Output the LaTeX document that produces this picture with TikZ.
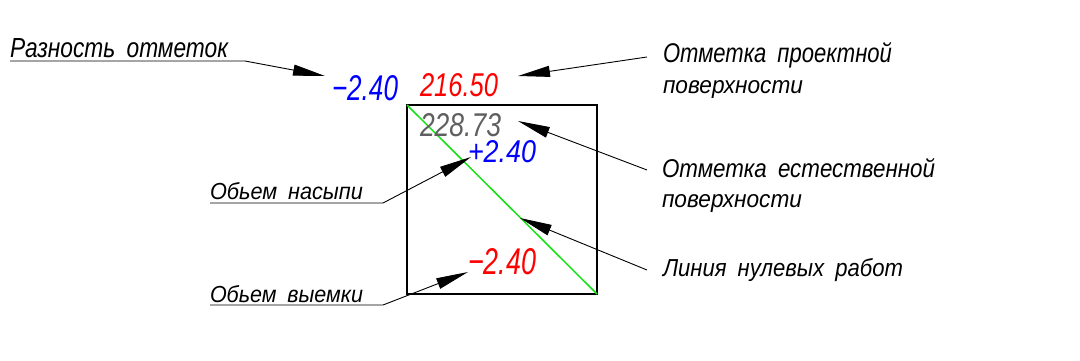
\documentclass[tikz,border=0pt]{standalone}
\usepackage{graphicx}
\usepackage{fontspec}
\setmainfont{Liberation Sans}
\usetikzlibrary{arrows.meta}
\newcommand\fitbox[3]{\resizebox{#1pt}{#2pt}{\itshape #3}}
\newcommand\gap{\hspace{0.5em}}
\definecolor{cblue}{RGB}{0,0,255}
\definecolor{cred}{RGB}{255,0,0}
\definecolor{cgray}{RGB}{95,95,95}
\definecolor{cgreen}{RGB}{20,225,20}
\begin{document}
\begin{tikzpicture}[x=1pt,y=-1pt,
  txt/.style={inner sep=0pt, outer sep=0pt, anchor=base west},
  lead/.style={line width=0.9pt, line join=round, -{Triangle[length=32pt,width=11pt]}},
  frame/.style={line width=1.8pt},
  zero/.style={line width=1.5pt, draw=cgreen}]
\useasboundingbox (0,0) rectangle (1080,361);
% square and zero-work line
\coordinate (sq1) at (407,105);
\coordinate (sq2) at (597,294);
\draw[frame] (sq1) rectangle (sq2);
\draw[zero] (sq1) -- (sq2);
% numbers
\node[txt, text=cblue] (dif) at (332,100) {\fitbox{66}{25}{−2.40}};
\node[txt, text=cred] (proj) at (420,96) {\fitbox{78}{23}{216.50}};
\node[txt, text=cgray] (nat) at (420,136) {\fitbox{81}{23}{228.73}};
\node[txt, text=cblue] (fill) at (468,162) {\fitbox{68}{22}{+2.40}};
\node[txt, text=cred] (cut) at (468,274) {\fitbox{68}{26}{−2.40}};
% labels
\node[txt] (lraz) at (10,57) {\fitbox{218}{19}{Разность\gap отметок}};
\node[txt] (lproj1) at (663,63) {\fitbox{229}{20}{Отметка\gap проектной}};
\node[txt] (lproj2) at (663,93) {\fitbox{140}{13}{поверхности}};
\node[txt] (lnat1) at (662,177) {\fitbox{273}{19}{Отметка\gap естественной}};
\node[txt] (lnat2) at (662,207) {\fitbox{140}{13}{поверхности}};
\node[txt] (lzero) at (663,276) {\fitbox{240}{18}{Линия\gap нулевых\gap работ}};
\node[txt] (lfill) at (210,199) {\fitbox{153}{17}{Обьем\gap насыпи}};
\node[txt] (lcut) at (210,302) {\fitbox{153}{17}{Обьем\gap выемки}};
% leader coordinates
\coordinate (razA) at (10,61);
\coordinate (razB) at (245,61);
\coordinate (razT) at (325,76);
\coordinate (projA) at (647,57);
\coordinate (projT) at (518,76);
\coordinate (natA) at (647,170);
\coordinate (natT) at (518,121);
\coordinate (zeroA) at (647,270);
\coordinate (zeroT) at (520,218);
\coordinate (fillA) at (210,203);
\coordinate (fillB) at (383,203);
\coordinate (fillT) at (471,157);
\coordinate (cutA) at (210,305);
\coordinate (cutB) at (383,305);
\coordinate (cutT) at (468,272);
% leaders
\draw[lead] (razA) -- (razB) -- (razT);
\draw[lead] (projA) -- (projT);
\draw[lead] (natA) -- (natT);
\draw[lead] (zeroA) -- (zeroT);
\draw[lead] (fillA) -- (fillB) -- (fillT);
\draw[lead] (cutA) -- (cutB) -- (cutT);
\end{tikzpicture}
\end{document}
